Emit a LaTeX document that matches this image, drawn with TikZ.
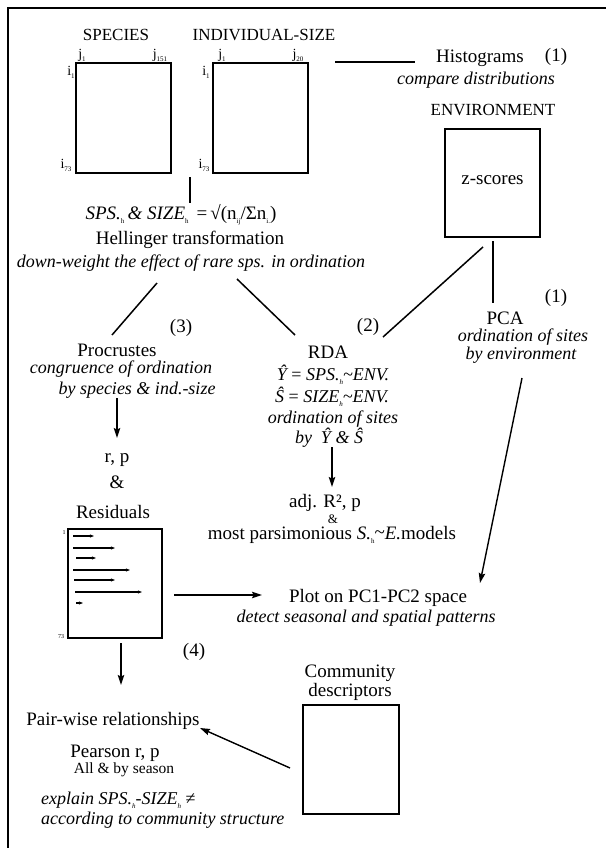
\documentclass[tikz,border=0pt]{standalone}
\usepackage{fontspec}
\setmainfont{Liberation Serif}
\usetikzlibrary{arrows.meta}
\newcommand\sbx[1]{\raisebox{-0.45ex}{\fontsize{7}{8}\selectfont #1}}
\newcommand\tld{\raisebox{0.1ex}{\textasciitilde}}
\begin{document}
\begin{tikzpicture}[x=1pt,y=-1pt,
  rm/.style={font=\fontsize{19}{22}\selectfont, inner sep=0pt},
  it/.style={font=\fontsize{18}{21}\selectfont\itshape, inner sep=0pt},
  hd/.style={font=\fontsize{17}{20}\selectfont, inner sep=0pt},
  sm/.style={font=\fontsize{15.5}{18}\selectfont, inner sep=0pt},
  amp/.style={font=\fontsize{13}{14}\selectfont, inner sep=0pt},
  lab/.style={font=\fontsize{14}{16}\selectfont, inner sep=0pt},
  tinylab/.style={font=\fontsize{6}{7}\selectfont, inner sep=0pt},
  box/.style={draw, line width=1.5pt, inner sep=0pt},
  conn/.style={line width=1.5pt},
  arr/.style={line width=1.4pt, -{Stealth[length=10pt,width=6.5pt,inset=1.5pt]}},
  rarr/.style={line width=1.1pt, -{Stealth[length=4pt,width=3pt,inset=0.5pt]}}]
\useasboundingbox (0,0) rectangle (606,848);
% frame
\coordinate (fbl) at (8,848);
\coordinate (ftl) at (8,8);
\coordinate (ftr) at (606,8);
\draw[line width=2pt] (fbl) -- (ftl) -- (ftr);

% headings and matrices
\node[hd] (species) at (116,35) {SPECIES};
\node[hd] (indsize) at (264,35) {INDIVIDUAL-SIZE};
\node[box, minimum width=95, minimum height=110] (spbox) at (123.5,118) {};
\node[box, minimum width=95, minimum height=110] (szbox) at (260.5,118) {};
\node[lab] (spj1) at (82,55) {j\sbx{1}};
\node[lab] (spj151) at (160,55) {j\sbx{151}};
\node[lab] (spi1) at (71,72) {i\sbx{1}};
\node[lab] (spi73) at (66,165) {i\sbx{73}};
\node[lab] (szj1) at (222,55) {j\sbx{1}};
\node[lab] (szj20) at (298,55) {j\sbx{20}};
\node[lab] (szi1) at (206,72) {i\sbx{1}};
\node[lab] (szi73) at (204,165) {i\sbx{73}};

% histograms
\node[rm] (hist) at (480,58) {Histograms};
\node[rm] (one1) at (556,57) {(1)};
\node[it] (histit) at (476,80) {compare distributions};
\coordinate (h1) at (335,62);
\coordinate (h2) at (415,62);
\draw[conn] (h1) -- (h2);

% environment
\node[hd] (env) at (493,110) {ENVIRONMENT};
\node[box, minimum width=95, minimum height=108] (zbox) at (492.5,183) {};
\node[rm] (zs) at (492.5,180) {z-scores};

% Hellinger
\coordinate (v1) at (190,177);
\coordinate (v2) at (190,203);
\draw[conn] (v1) -- (v2);
\node[rm] (form) at (181,215) {{\itshape SPS.}\sbx{h}\,{\itshape\&\ SIZE}\sbx{h} \,=\,√(n\sbx{ij}/Σn\sbx{i.})};
\node[rm] (hell) at (190,240) {Hellinger transformation};
\node[it] (hellit) at (191,263) {down-weight the effect of rare sps. in ordination};

% connectors to Procrustes / RDA
\coordinate (p1) at (157,283);
\coordinate (p2) at (112,335);
\draw[conn] (p1) -- (p2);
\coordinate (r1) at (237,279);
\coordinate (r2) at (295,335);
\draw[conn] (r1) -- (r2);
\coordinate (z1) at (483,247);
\coordinate (z2) at (383,337);
\draw[conn] (z1) -- (z2);
\coordinate (zp1) at (493,241);
\coordinate (zp2) at (493,303);
\draw[conn] (zp1) -- (zp2);

\node[rm] (three) at (181,328) {(3)};
\node[rm] (two) at (368,327) {(2)};

% Procrustes
\node[rm] (proc) at (117,350) {Procrustes};
\node[it] (procit1) at (121,369) {congruence of ordination};
\node[it] (procit2) at (137,390) {by species \& ind.-size};
\node[rm] (rp) at (117,460) {r, p};
\node[rm] (amp1) at (117,482) {\&};
\coordinate (pa1) at (117,398);
\coordinate (pa2) at (117,438);
\draw[arr] (pa1) -- (pa2);

% RDA
\node[rm] (rda) at (328,352) {RDA};
\node[it] (rdaf1) at (333,375) {Ŷ {\upshape =} SPS.\sbx{h}\tld ENV.};
\node[it] (rdaf2) at (332,397) {Ŝ {\upshape =} SIZE\sbx{h}\tld ENV.};
\node[it] (rdait1) at (333,419) {ordination of sites};
\node[it] (rdait2) at (329,438) {by\ \ Ŷ \& Ŝ};
\coordinate (ra1) at (332,447);
\coordinate (ra2) at (332,487);
\draw[arr] (ra1) -- (ra2);
\node[rm] (adj) at (325,503) {adj. R², p};
\node[amp] (amp2) at (333,519) {\&};
\node[rm] (pars) at (332,535) {most parsimonious {\itshape S.}\sbx{h}\tld{\itshape E.}models};

% PCA
\node[rm] (pca) at (505,318) {PCA};
\node[rm] (one2) at (556,298) {(1)};
\node[it] (pcait1) at (523,337) {ordination of sites};
\node[it] (pcait2) at (521,355) {by environment};
\coordinate (pc1) at (522,378);
\coordinate (pc2) at (480,583);
\draw[arr] (pc1) -- (pc2);

% Residuals
\node[rm] (resid) at (113,512) {Residuals};
\node[box, minimum width=94, minimum height=109] (rbox) at (115,583.5) {};
\node[tinylab] (r1lab) at (64,533) {1};
\node[tinylab] (r73lab) at (61,637) {73};
\foreach \i/\xa/\yy/\xb in {1/73/536/94, 2/73/548/115, 3/76/558/96, 4/73/570/130, 5/74/580/115, 6/75/592/142, 7/76/603/83}{
  \coordinate (rs\i) at (\xa,\yy);
  \coordinate (re\i) at (\xb,\yy);
  \draw[rarr] (rs\i) -- (re\i);
}
\coordinate (pl1) at (174,595);
\coordinate (pl2) at (262,595);
\draw[arr] (pl1) -- (pl2);
\node[rm] (plot) at (378,598) {Plot on PC1-PC2 space};
\node[it] (plotit) at (366,618) {detect seasonal and spatial patterns};

\coordinate (d1) at (121,643);
\coordinate (d2) at (121,685);
\draw[arr] (d1) -- (d2);
\node[rm] (four) at (194,652) {(4)};

% pair-wise
\node[rm] (pair) at (113,721) {Pair-wise relationships};
\node[rm] (pear) at (115,753) {Pearson r, p};
\node[sm] (allby) at (124,770) {All \& by season};
\node[it, anchor=west] (expl1) at (41,800) {explain SPS.\sbx{h}-SIZE\sbx{h} {\upshape ≠}};
\node[it, anchor=west] (expl2) at (41,820) {according to community structure};

% community
\node[rm] (comm1) at (350,673) {Community};
\node[rm] (comm2) at (350,692) {descriptors};
\node[box, minimum width=96, minimum height=109] (cbox) at (351,759.5) {};
\coordinate (c1) at (290,768);
\coordinate (c2) at (200,728);
\draw[arr] (c1) -- (c2);
\end{tikzpicture}
\end{document}
